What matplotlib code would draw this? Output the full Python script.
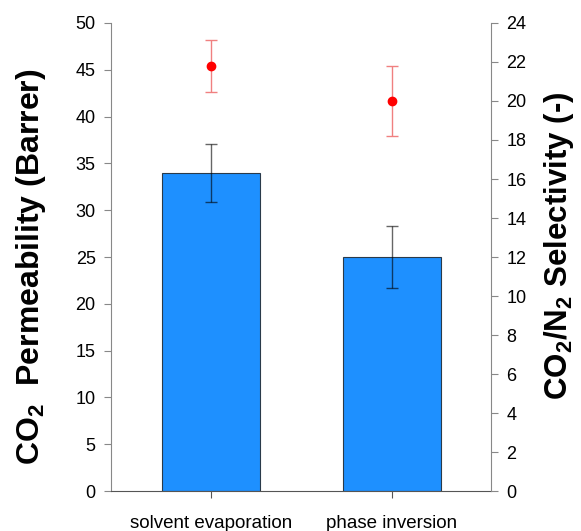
import matplotlib
matplotlib.use("Agg")
import matplotlib.pyplot as plt
import numpy as np

categories = ["solvent evaporation", "phase inversion"]
permeability = [34.0, 25.0]
permeability_err = [3.1, 3.3]
selectivity = [21.8, 20.0]
selectivity_err = [1.35, 1.8]

plt.rcParams['font.family'] = ['Liberation Sans', 'DejaVu Sans']
plt.rcParams['mathtext.fontset'] = 'custom'
plt.rcParams['mathtext.rm'] = 'Liberation Sans'
plt.rcParams['mathtext.bf'] = 'Liberation Sans:bold'

fig = plt.figure(figsize=(5.81, 5.31), dpi=100)
ax = fig.add_axes([0.191, 0.0753, 0.654, 0.8814])
x = np.arange(len(categories))
ax.bar(x, permeability, width=0.54, color='#1E90FF', edgecolor='#2a3a4a', linewidth=0.8, zorder=2)
ax.errorbar(x, permeability, yerr=permeability_err, fmt='none', ecolor='black', alpha=0.6,
            elinewidth=1, capsize=4, capthick=1, zorder=3)
ax.set_xlim(-0.552, 1.548)
ax.set_ylim(0, 50)
ax.set_yticks(range(0, 51, 5))
ax.set_xticks(x)
ax.set_xticklabels(categories, fontsize=13.5)
ax.tick_params(axis='x', length=5, pad=12, color='#555555')
ax.tick_params(axis='y', labelsize=13, length=5, color='#888888', pad=6)
for s in ['top', 'right']:
    ax.spines[s].set_visible(False)
ax.spines['left'].set_color('#888888')
ax.spines['bottom'].set_color('#555555')
ax.set_ylabel(r"CO$_\mathbf{2}$  Permeability (Barrer)", fontsize=23, fontweight='bold')
ax.yaxis.set_label_coords(-0.165, 0.48)

ax2 = ax.twinx()
ax2.errorbar(x, selectivity, yerr=selectivity_err, fmt='o', color='red', markersize=6,
             ecolor='#f08080', elinewidth=1, capsize=4, capthick=1, zorder=3)
ax2.set_ylim(0, 24)
ax2.set_yticks(range(0, 25, 2))
ax2.tick_params(axis='y', labelsize=13, length=5, color='#888888', pad=6)
for s in ['top', 'left', 'bottom']:
    ax2.spines[s].set_visible(False)
ax2.spines['right'].set_color('#888888')
ax2.set_ylabel(r"CO$_\mathbf{2}$/N$_\mathbf{2}$ Selectivity (-)", fontsize=22.5, fontweight='bold')
ax2.yaxis.set_label_coords(1.135, 0.523)

fig.savefig("out.png", dpi=100)
